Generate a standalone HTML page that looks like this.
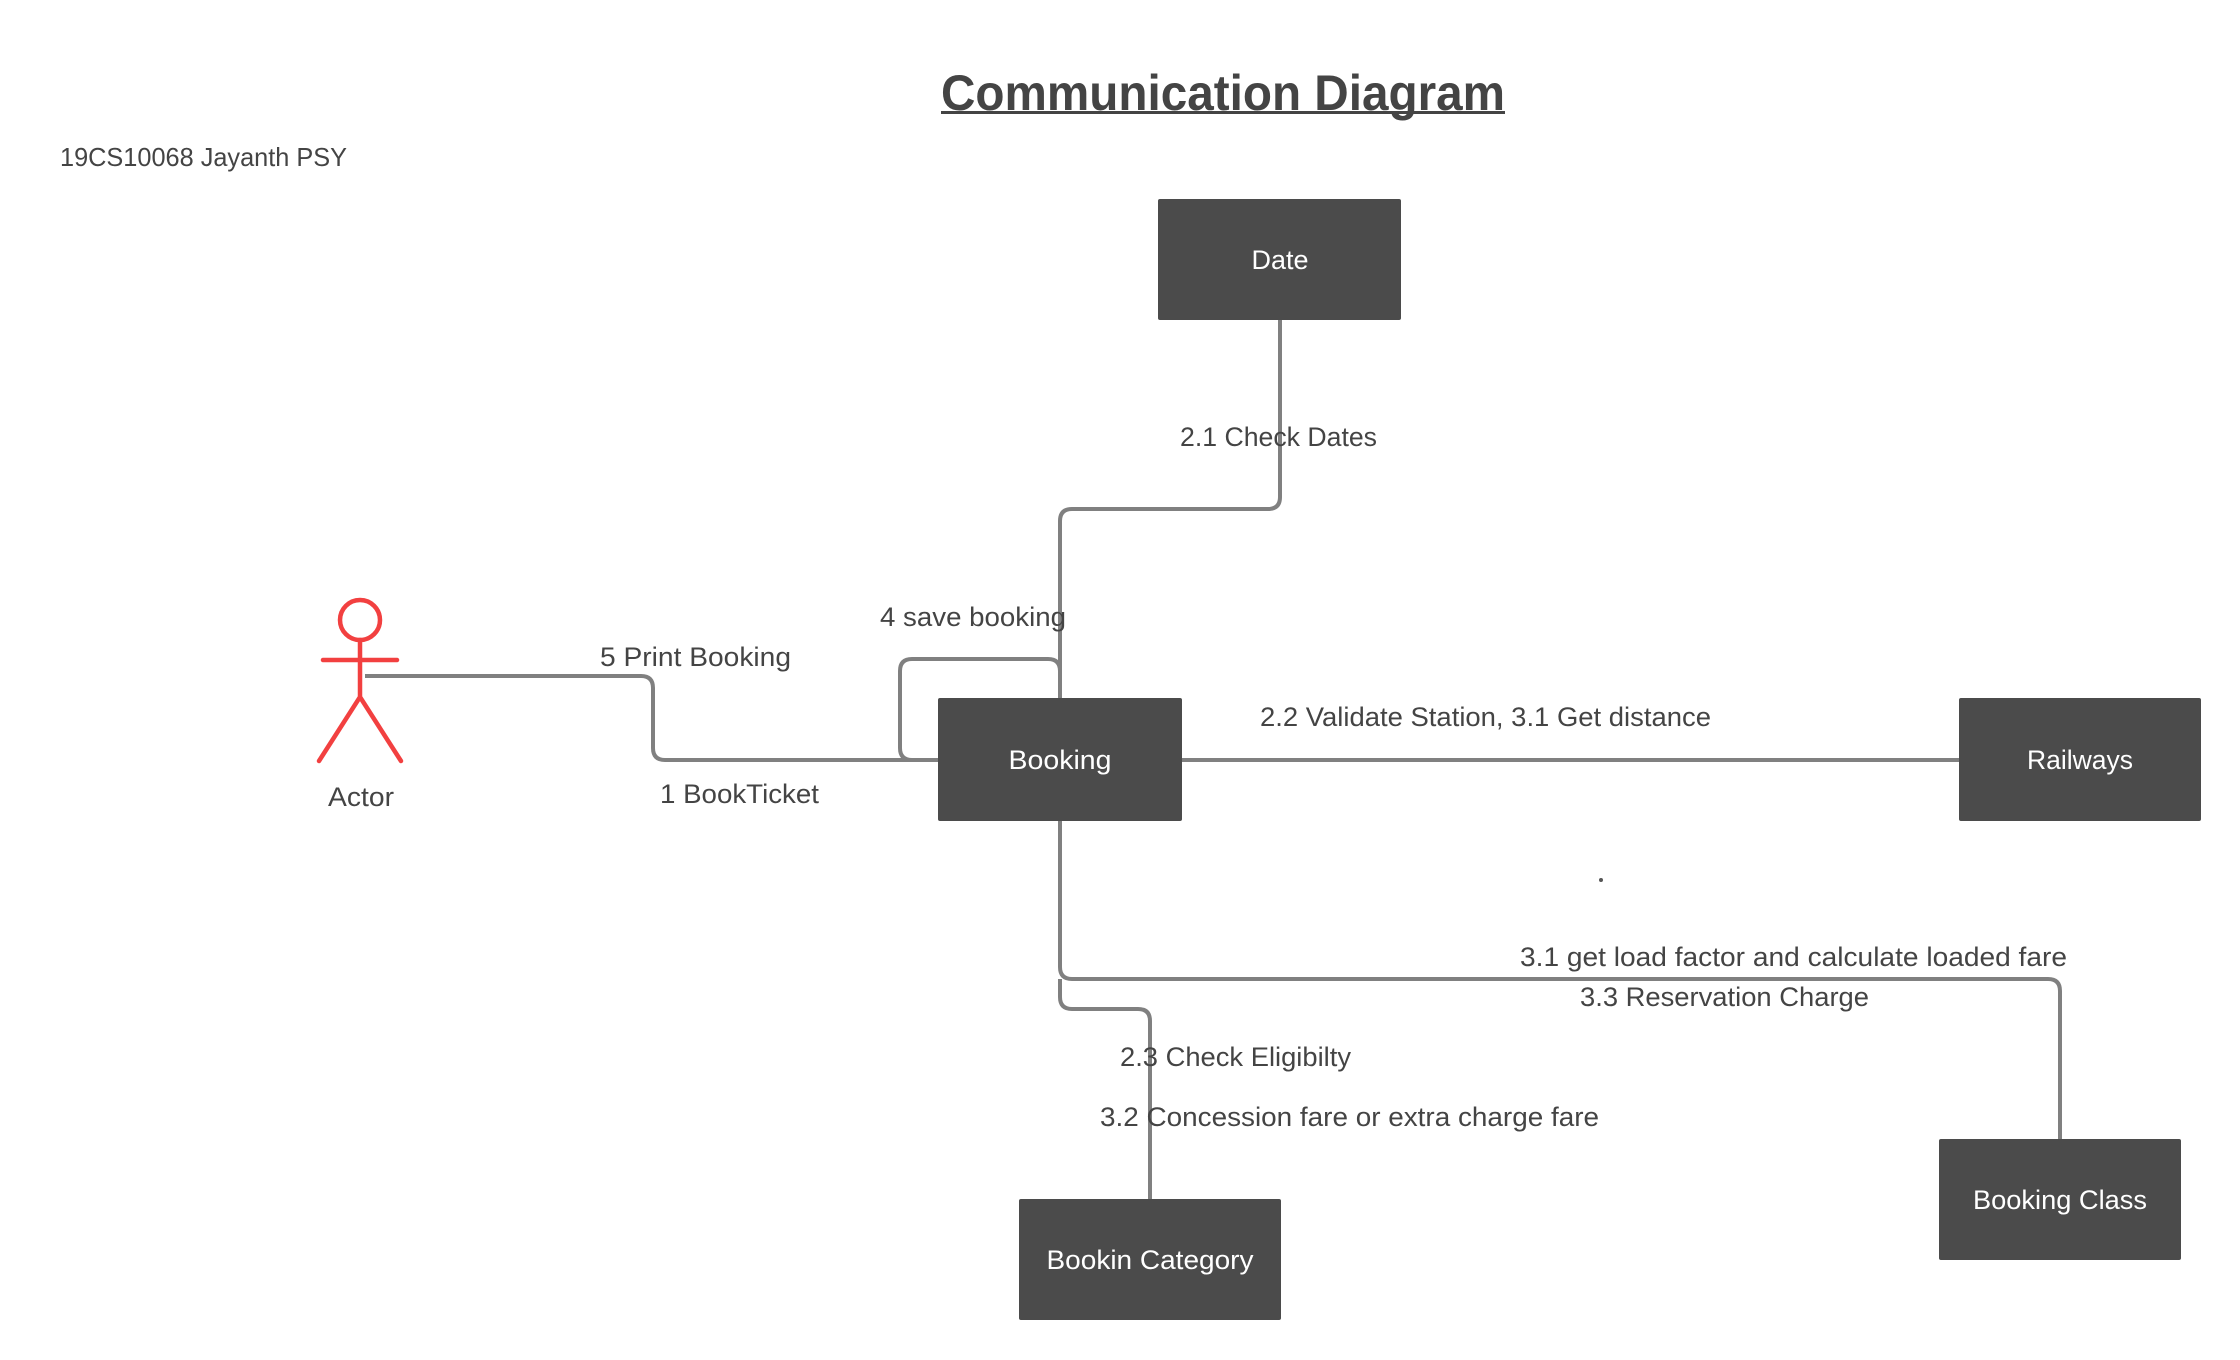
<!DOCTYPE html>
<html><head><meta charset="utf-8"><style>
html,body{margin:0;padding:0;background:#fff;}
body{width:2240px;height:1360px;position:relative;overflow:hidden;font-family:"Liberation Sans",sans-serif;}
</style></head><body>
<svg width="2240" height="1360" viewBox="0 0 2240 1360" xmlns="http://www.w3.org/2000/svg" style="position:absolute;left:0;top:0">
<g fill="none" stroke="#808080" stroke-width="4" stroke-linejoin="round">
<path d="M1280 320 V497 Q1280 509 1268 509 H1072 Q1060 509 1060 521 V698"/>
<path d="M1060 698 V671 Q1060 659 1048 659 H912 Q900 659 900 671 V748 Q900 760 912 760 H938"/>
<path d="M365 676 H641 Q653 676 653 688 V748 Q653 760 665 760 H938"/>
<path d="M1182 760 H1959"/>
<path d="M1060 821 V967 Q1060 979 1072 979 H2048 Q2060 979 2060 991 V1139"/>
<path d="M1060 979 V997 Q1060 1009 1072 1009 H1138 Q1150 1009 1150 1021 V1199"/>
</g>
<g fill="#4b4b4b">
<rect x="1158" y="199" width="243" height="121" rx="2"/>
<rect x="938" y="698" width="244" height="123" rx="2"/>
<rect x="1959" y="698" width="242" height="123" rx="2"/>
<rect x="1939" y="1139" width="242" height="121" rx="2"/>
<rect x="1019" y="1199" width="262" height="121" rx="2"/>
</g>
<g fill="#fff" font-size="27" text-anchor="middle" dominant-baseline="central" lengthAdjust="spacingAndGlyphs" font-family="Liberation Sans, sans-serif">
<text x="1280" y="260" textLength="57" lengthAdjust="spacingAndGlyphs">Date</text>
<text x="1060" y="760" textLength="103" lengthAdjust="spacingAndGlyphs">Booking</text>
<text x="2080" y="760" textLength="106" lengthAdjust="spacingAndGlyphs">Railways</text>
<text x="2060" y="1200" textLength="174" lengthAdjust="spacingAndGlyphs">Booking Class</text>
<text x="1150" y="1260" textLength="207" lengthAdjust="spacingAndGlyphs">Bookin Category</text>
</g>
<g fill="none" stroke="#f24040" stroke-width="4.5" stroke-linecap="round">
<circle cx="360" cy="620" r="20"/>
<path d="M323 660 H397 M360 640 V697 L319 761 M360 697 L401 761"/>
</g>
<g fill="#444" font-size="27" dominant-baseline="central" font-family="Liberation Sans, sans-serif">
<text x="328" y="797" textLength="66" lengthAdjust="spacingAndGlyphs">Actor</text>
<text x="1180" y="437" textLength="197" lengthAdjust="spacingAndGlyphs">2.1 Check Dates</text>
<text x="880" y="617" textLength="186" lengthAdjust="spacingAndGlyphs">4 save booking</text>
<text x="600" y="657" textLength="191" lengthAdjust="spacingAndGlyphs">5 Print Booking</text>
<text x="660" y="794" textLength="159" lengthAdjust="spacingAndGlyphs">1 BookTicket</text>
<text x="1260" y="717" textLength="451" lengthAdjust="spacingAndGlyphs">2.2 Validate Station, 3.1 Get distance</text>
<text x="1520" y="957" textLength="547" lengthAdjust="spacingAndGlyphs">3.1 get load factor and calculate loaded fare</text>
<text x="1580" y="997" textLength="289" lengthAdjust="spacingAndGlyphs">3.3 Reservation Charge</text>
<text x="1120" y="1057" textLength="231" lengthAdjust="spacingAndGlyphs">2.3 Check Eligibilty</text>
<text x="1100" y="1117" textLength="499" lengthAdjust="spacingAndGlyphs">3.2 Concession fare or extra charge fare</text>
<text x="60" y="157" font-size="26" textLength="287" lengthAdjust="spacingAndGlyphs">19CS10068 Jayanth PSY</text>
<text x="941" y="93" font-size="50" font-weight="bold" textLength="564" lengthAdjust="spacingAndGlyphs">Communication Diagram</text>
</g>
<rect x="941" y="111" width="564" height="3" fill="#444"/>
<circle cx="1601" cy="880" r="2" fill="#555"/>
</svg>
</body></html>
